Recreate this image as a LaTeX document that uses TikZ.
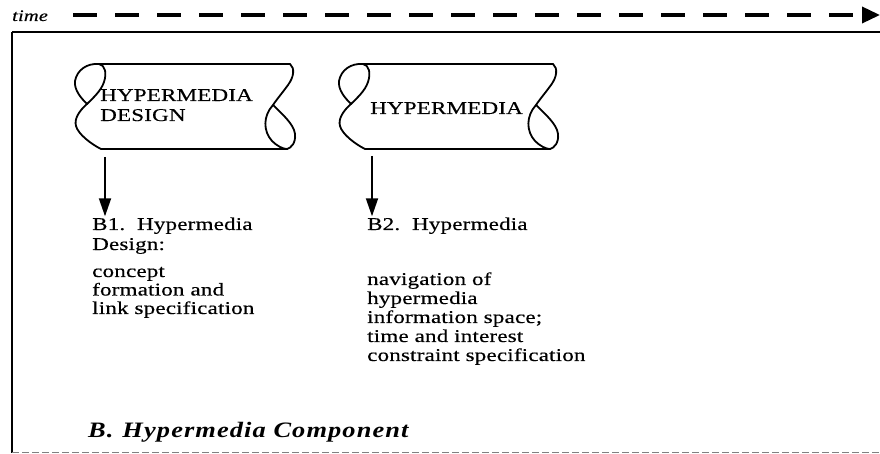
\documentclass[tikz,border=0pt]{standalone}
\usepackage{fontspec}
\usetikzlibrary{arrows.meta}
% widened Times-like faces
\newfontfamily\bodyfont[FakeStretch=1.28,LetterSpace=1,FakeBold=0.4]{Liberation Serif}
\newfontfamily\headfont[FakeStretch=1.2,LetterSpace=5]{Liberation Serif}

\tikzset{
  % left end of a scroll: loop on top, bulge below; origin = top-left corner
  scrollleft/.pic={
    \draw[scrollline] (0,0) .. controls (-12,-1) and (-22,6) .. (-24,17)
      .. controls (-25,26) and (-18,34) .. (-12,40);
    \draw[scrollline] (0,0) .. controls (6,1) and (8,9) .. (5,18)
      .. controls (2,27) and (-6,34) .. (-12,40)
      .. controls (-20,47) and (-25,55) .. (-23,62)
      .. controls (-21,70) and (-8,80) .. (2,85);
  },
  % right end of a scroll: slant on top, loop below; origin = bottom-right corner
  scrollright/.pic={
    \draw[scrollline] (3,-85) .. controls (8,-81) and (7,-72) .. (1,-64)
      .. controls (-4,-57) and (-10,-50) .. (-14,-44)
      .. controls (-24,-33) and (-24,-18) .. (-15,-8)
      .. controls (-10,-3) and (-4,0) .. (0,0);
    \draw[scrollline] (-14,-44) .. controls (-6,-36) and (7,-25) .. (8,-15)
      .. controls (9,-6) and (4,-1) .. (0,0);
  }
}

\begin{document}
\begin{tikzpicture}[x=1bp,y=-1bp,
  frameline/.style={line width=2.2bp},
  sideline/.style={line width=1.5bp},
  bottomline/.style={line width=1bp, gray, dash pattern=on 7bp off 3bp},
  scrollline/.style={line width=1.8bp, line cap=round, line join=round},
  scrollbody/.style={anchor=north west, inner sep=0pt, outer sep=0pt, minimum height=85bp},
  flow/.style={line width=1.8bp, -{Triangle[length=18bp,width=12bp]}},
  timeline/.style={line width=3.5bp, dash pattern=on 24bp off 18bp, -{Triangle[length=18bp,width=16bp]}},
  textline/.style={anchor=base west, inner sep=0pt,
    font=\bodyfont\fontsize{18bp}{18bp}\selectfont},
  timelabel/.style={anchor=base west, inner sep=0pt,
    font=\bodyfont\itshape\fontsize{16bp}{16bp}\selectfont},
  title/.style={anchor=base west, inner sep=0pt,
    font=\headfont\bfseries\itshape\fontsize{22bp}{22bp}\selectfont}
]
\useasboundingbox (0,0) rectangle (880,454);

% time axis
\node[timelabel] (time) at (12,21) {time};
\coordinate (tstart) at (73,15);
\coordinate (tend) at (880,15);
\draw[timeline] (tstart) -- (tend);

% frame
\draw[frameline] (12,32) -- (880,32);
\draw[sideline] (12,32) -- (12,453);
\draw[bottomline] (12,452) -- (880,452);

% scrolls
\node[scrollbody, minimum width=188bp] (s1) at (99,64) {};
\node[scrollbody, minimum width=187bp] (s2) at (363,64) {};
\foreach \s in {s1,s2}{
  \pic at (\s.north west) {scrollleft};
  \pic at (\s.south east) {scrollright};
  \draw[scrollline] (\s.north west) -- ([xshift=3bp]\s.north east);
  \draw[scrollline] ([xshift=2bp]\s.south west) -- (\s.south east);
}
\node[textline] (s1t1) at (100,101) {HYPERMEDIA};
\node[textline] (s1t2) at (100,121) {DESIGN};
\node[textline] (s2t) at (370,114) {HYPERMEDIA};

% descriptions, one line per node
\foreach \t/\y [count=\i] in {B1.\ \ Hypermedia/230, Design:/250, concept/277,
    formation and/295.5, link specification/314}
  \node[textline] (b1-\i) at (92,\y) {\t};
\foreach \t/\y [count=\i] in {B2.\ \ Hypermedia/230, navigation of/285,
    hypermedia/304, information space;/323, time and interest/342,
    constraint specification/361}
  \node[textline] (b2-\i) at (367,\y) {\t};

% arrows from scrolls to descriptions
\coordinate (a1) at ([xshift=6bp,yshift=-8bp]s1.south west);
\coordinate (a2) at ([xshift=9bp,yshift=-7bp]s2.south west);
\draw[flow, shorten >=1bp] (a1) -- (a1 |- b1-1.north);
\draw[flow, shorten >=1bp] (a2) -- (a2 |- b2-1.north);

% component title
\node[title] (comp) at (88,437) {B.\hspace{9bp}Hypermedia Component};
\end{tikzpicture}
\end{document}
